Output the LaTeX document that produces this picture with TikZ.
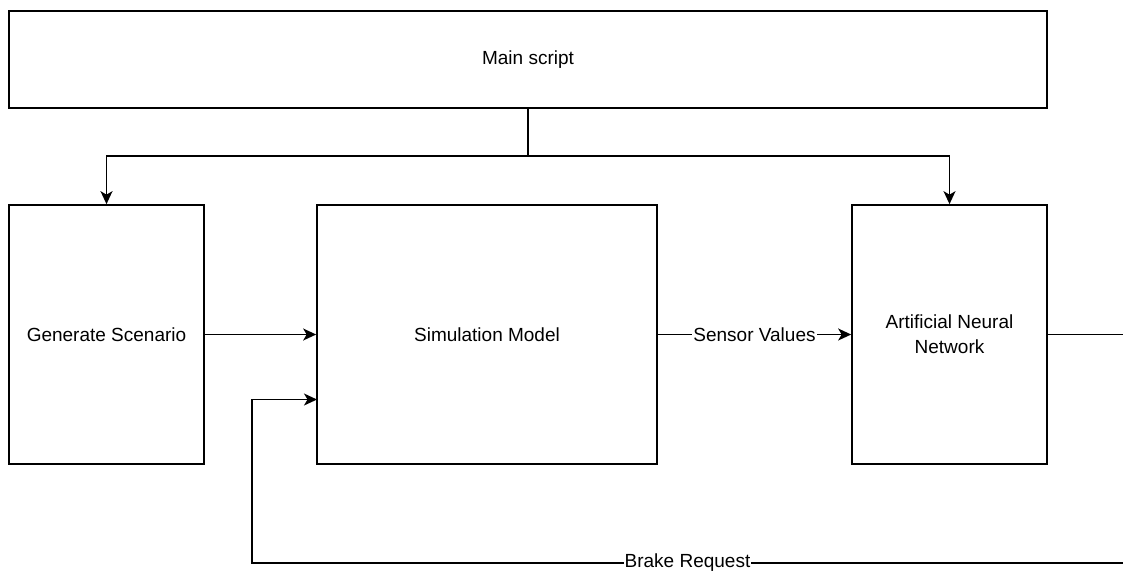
\documentclass[tikz,border=0pt]{standalone}
\usepackage{fontspec}
\setmainfont{Liberation Sans}
\usetikzlibrary{arrows.meta}

\tikzset{
  block/.style={draw=black, line width=1.7pt, fill=white, inner sep=0pt,
                align=center, text=black},
  wire/.style={draw=black, line width=1.6pt},
  arr/.style={wire, -{Stealth[length=13pt, width=12pt, inset=3.5pt]}},
  tag/.style={fill=white, inner sep=1pt, text=black}
}

\begin{document}
\begin{tikzpicture}[x=1pt, y=-1pt,
    every node/.append style={font=\fontsize{19}{25}\selectfont}]
  % canvas
  \useasboundingbox (0,0) rectangle (1123,574);

  % blocks
  \node[block, minimum width=1038pt, minimum height=97pt] (main) at (528,59.5) {Main script};
  \node[block, minimum width=195pt, minimum height=259pt] (gen) at (106.5,334.5) {Generate Scenario};
  \node[block, minimum width=340pt, minimum height=259pt] (sim) at (487,334.5) {Simulation Model};
  \node[block, minimum width=195pt, minimum height=259pt] (ann) at (949.5,334.5) {Artificial Neural\\Network};

  % helper points
  \coordinate (fork) at (528,156);
  \coordinate (outR) at (1123,334.5);
  \coordinate (brkR) at (1123,563);
  \coordinate (brkL) at (252,563);
  \coordinate (simIn) at (317,399.5);

  % main script fans out
  \draw[wire] (main.south) -- (fork);
  \draw[arr] (fork) -| (gen.north);
  \draw[arr] (fork) -| (ann.north);

  % data flow
  \draw[arr] (gen.east) -- (sim.west);
  \draw[arr] (sim.east) -- node[tag] {Sensor Values} (ann.west);
  \draw[wire] (ann.east) -- (outR);

  % feedback
  \draw[arr] (brkR) -- node[tag] {Brake Request} (brkL) |- (simIn);
\end{tikzpicture}
\end{document}
